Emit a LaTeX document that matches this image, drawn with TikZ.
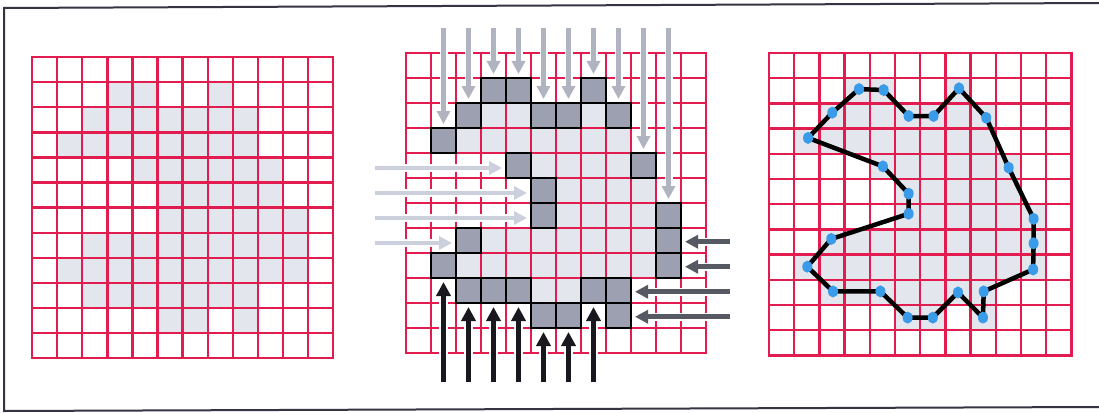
\documentclass[tikz,border=0pt]{standalone}
\usetikzlibrary{arrows.meta,shapes.geometric}
\definecolor{gridred}{RGB}{226,28,78}
\definecolor{lightcell}{RGB}{228,230,238}
\definecolor{darkfill}{RGB}{156,160,176}
\definecolor{topgray}{RGB}{176,180,192}
\definecolor{leftgray}{RGB}{204,208,220}
\definecolor{rightgray}{RGB}{86,88,98}
\definecolor{botblack}{RGB}{24,24,30}
\definecolor{dotblue}{RGB}{58,155,232}
\definecolor{framecol}{RGB}{52,52,66}
\tikzset{
  gridline/.style={draw=gridred,line width=2.4pt,line cap=rect},
  lightfill/.style={fill=lightcell},
  darkbox/.style={fill=darkfill,draw=black,line width=2.4pt,line join=miter},
  halo/.style={preaction={draw=white,line width=#1,shorten >=11pt,-}},
  downarrow/.style={draw=topgray,line width=4.5pt,-{Triangle[length=13pt,width=13pt]},halo=8pt},
  rightarrow/.style={draw=leftgray,line width=4.5pt,-{Triangle[length=13pt,width=13pt]},halo=8pt},
  leftarrow/.style={draw=rightgray,line width=5pt,-{Triangle[length=13pt,width=13pt]},halo=8.5pt},
  uparrow/.style={draw=botblack,line width=5.5pt,-{Triangle[length=14pt,width=14pt]},halo=9pt},
  poly/.style={draw=black,line width=4.5pt,line join=round},
  dot/.style={ellipse,fill=dotblue,minimum width=10pt,minimum height=12pt,inner sep=0pt},
  framel/.style={draw=framecol,line width=2pt}
}
\newcommand\gridLight{\foreach \r/\a/\b in {1/3/4,1/7/7,2/2/8,3/1/8,4/4/9,5/5/9,6/5/10,7/2/10,8/1/10,9/2/8,10/5/6,10/8/8}{\foreach \c in {\a,...,\b}{\fill[lightfill] (\c,\r) rectangle ++(1,1);}}}
\newcommand\gridRed{\foreach \i in {0,...,12}{\draw[gridline] (\i,0) -- (\i,12); \draw[gridline] (0,\i) -- (12,\i);}}
\begin{document}
\begin{tikzpicture}[x=1pt,y=-1pt]
\useasboundingbox (0,0) rectangle (1099,412);
\fill[white] (0,0) rectangle (1099,412);
\draw[framel] (1099,3) -- (4,8) -- (4,411) -- (1099,407);
% grid 1
\begin{scope}[shift={(32,57)},x=25.1pt,y=-25.1pt]
  \gridLight
  \gridRed
\end{scope}
% grid 2
\begin{scope}[shift={(406,53)},x=25pt,y=-25pt]
  \gridLight
  \gridRed
  \foreach \r/\c in {1/3,1/4,1/7,2/2,2/5,2/6,2/8,3/1,4/4,4/9,5/5,6/5,6/10,7/2,7/10,8/1,8/10,9/2,9/3,9/4,9/7,9/8,10/5,10/6,10/8}{
    \draw[darkbox] (\c,\r) rectangle ++(1,1);
  }
  \foreach \c/\r in {1/3,2/2,3/1,4/1,5/2,6/2,7/1,8/2,9/4,10/6}{
    \coordinate (ts\c) at (\c+0.5,-1);
    \coordinate (te\c) at (\c+0.5,\r-0.16);
    \draw[downarrow] (ts\c) -- (te\c);
  }
  \foreach \r/\c in {4/4,5/5,6/5,7/2}{
    \coordinate (ls\r) at (-1.24,\r+0.6);
    \coordinate (le\r) at (\c-0.16,\r+0.6);
    \draw[rightarrow] (ls\r) -- (le\r);
  }
  \foreach \r/\c in {7/10,8/10,9/8,10/8}{
    \coordinate (rs\r) at (12.96,\r+0.55);
    \coordinate (re\r) at (\c+1.16,\r+0.55);
    \draw[leftarrow] (rs\r) -- (re\r);
  }
  \foreach \c/\r in {1/8,2/9,3/9,4/9,5/10,6/10,7/9}{
    \coordinate (bs\c) at (\c+0.5,13.16);
    \coordinate (be\c) at (\c+0.5,\r+1.16);
    \draw[uparrow] (bs\c) -- (be\c);
  }
\end{scope}
% grid 3
\begin{scope}[shift={(769,53)},x=25.2pt,y=-25.2pt]
  \gridLight
  \gridRed
  \foreach \i/\px/\py in {1/3.57/1.43,2/4.55/1.47,3/5.54/2.5,4/6.53/2.5,5/7.54/1.4,6/8.62/2.57,7/9.51/4.55,8/10.5/6.58,9/10.5/7.55,10/10.48/8.59,11/8.52/9.46,12/8.49/10.5,13/7.5/9.5,14/6.5/10.5,15/5.5/10.5,16/4.42/9.46,17/2.54/9.46,18/1.52/8.48,19/2.47/7.38,20/5.54/6.38,21/5.54/5.58,22/4.52/4.5,23/1.55/3.37,24/2.51/2.37}{
    \coordinate (p\i) at (\px,\py);
  }
  \draw[poly] (p1) -- (p2) -- (p3) -- (p4) -- (p5) -- (p6) -- (p7) -- (p8) -- (p9) -- (p10) -- (p11) -- (p12) -- (p13) -- (p14) -- (p15) -- (p16) -- (p17) -- (p18) -- (p19) -- (p20) -- (p21) -- (p22) -- (p23) -- (p24) -- cycle;
  \foreach \i in {1,...,24}{
    \node[dot] (d\i) at (p\i) {};
  }
\end{scope}
\end{tikzpicture}
\end{document}
